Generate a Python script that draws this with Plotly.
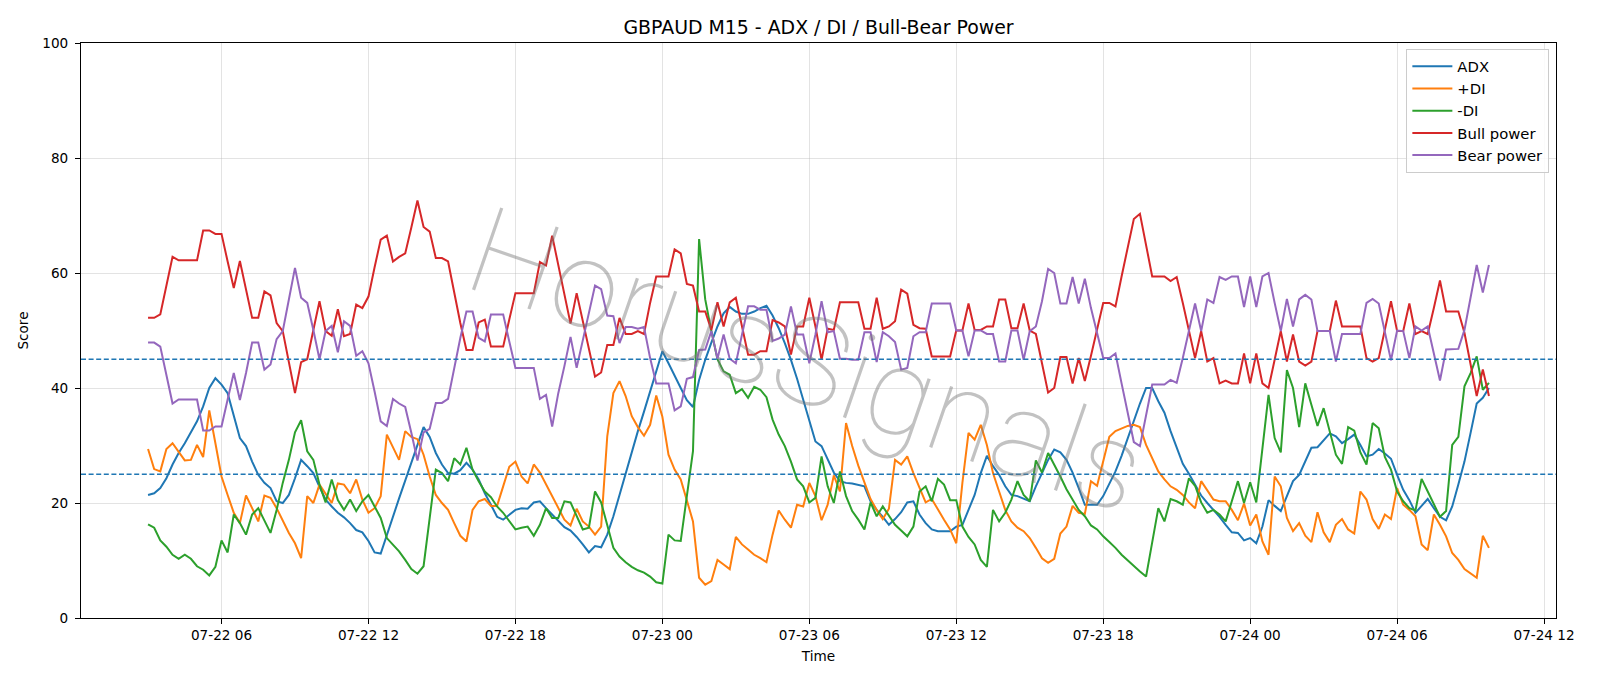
import pandas as pd
import plotly.graph_objects as go

# ---------------- data ----------------
start_time = "2025-07-22 03:00"
n_bars = 220
times = pd.date_range(start_time, periods=n_bars, freq="15min")

adx = [21.4, 21.7, 22.6, 24.3, 26.7, 28.7, 30.4, 32.2, 34.2, 36.8, 40.0, 41.7, 40.6, 39.1, 35.1, 31.3, 29.9, 27.2, 24.9, 23.5,
       22.6, 20.3, 20.0, 21.4, 24.3, 27.5, 26.4, 25.2, 22.8,
       20.6, 19.4, 18.3, 17.5, 16.5, 15.3, 14.9, 13.4, 11.4, 11.2, 14.5, 17.5, 20.8, 23.9, 27.0, 30.2, 33.2, 31.5, 28.7, 26.7,
       25.2, 25.1, 25.7, 27.0, 25.8, 24.1, 21.7, 19.7, 17.6,
       17.1, 18.0, 18.8, 19.1, 19.0, 20.1, 20.3, 19.1, 18.0, 16.8, 15.8, 15.2, 14.1, 12.8, 11.4, 12.5, 12.3, 14.5, 17.7, 21.4,
       25.2, 29.0, 32.5, 35.9, 39.4, 42.9, 46.4, 44.3, 42.0,
       40.0, 37.9, 36.7, 41.4, 44.9, 47.9, 50.7, 53.0, 54.1, 53.3, 52.9, 52.9, 53.3, 53.9, 54.3, 52.6, 50.4, 47.8, 44.9, 41.6,
       38.0, 34.4, 30.7, 29.9, 27.5, 25.3, 23.8, 23.5,
       23.4, 23.2, 22.9, 20.3, 18.8, 17.6, 16.2, 17.2, 18.4, 20.1, 20.3, 18.0, 16.5, 15.4, 15.1, 15.1, 15.1, 15.9, 16.2, 18.8,
       21.4, 25.2, 28.2, 26.4, 24.9, 22.9, 21.4, 21.2, 20.7,
       20.3, 22.9, 25.3, 27.5, 29.3, 28.8, 27.5, 25.3, 22.6, 19.7, 19.7, 19.7, 21.2, 23.5, 25.5, 28.2, 31.3, 34.4, 37.3, 40.0,
       40.0, 37.7, 35.7, 32.5, 29.6, 26.8, 25.1, 23.2,
       21.3, 20.0, 18.8, 17.6, 16.2, 14.9, 14.8, 13.5, 13.9, 13.0, 15.9, 20.5, 19.5, 18.6, 21.2, 23.8, 24.9, 27.2, 29.6, 29.7,
       31.0, 32.1, 31.6, 30.4, 31.1, 31.9, 30.1, 28.1,
       28.4, 29.4, 28.6, 27.7, 24.9, 22.3, 20.5, 18.3, 19.5, 20.7, 19.1, 17.6, 17.0, 19.4, 23.2, 27.2, 32.2, 37.3, 38.3, 40.0]

plus_di = [29.4, 25.9, 25.5, 29.4, 30.4, 29.0, 27.4, 27.5, 30.1, 28.0, 36.1, 30.4, 24.6, 21.4, 18.3, 16.5, 21.3, 19.1, 16.8, 21.3,
           20.9, 19.1, 16.8, 14.8, 13.0, 10.4, 21.2, 20.0, 23.2,
           21.7, 20.0, 23.4, 23.2, 21.7, 24.1, 20.6, 18.3, 19.1, 21.2, 31.9, 29.6, 27.5, 32.5, 31.5, 31.1, 28.4, 24.6, 21.4, 20.0,
           18.8, 16.5, 14.3, 13.3, 18.8, 20.3, 20.7, 19.5, 19.5,
           22.9, 26.3, 27.2, 24.6, 23.4, 26.7, 25.3, 23.2, 21.2, 19.1, 17.1, 16.1, 19.0, 16.8, 15.9, 14.5, 15.9, 31.6, 39.1, 41.2,
           38.6, 35.1, 33.2, 31.7, 33.6, 38.7, 35.0, 28.4, 25.8,
           24.1, 20.3, 16.8, 7.0, 5.8, 6.4, 10.1, 9.3, 8.5, 14.1, 12.8, 11.9, 11.0, 10.4, 9.7, 14.5, 18.7, 17.1, 15.7, 19.7,
           19.4, 23.5, 21.2, 17.0, 19.7, 24.8, 22.0, 33.9,
           29.9, 26.5, 23.5, 20.7, 18.8, 17.2, 19.0, 27.5, 26.7, 28.1, 25.2, 22.6, 20.1, 20.7, 18.8, 17.1, 15.4, 13.0, 23.5, 32.2,
           31.0, 33.6, 30.1, 25.2, 22.0, 18.8, 16.8, 15.7, 15.1,
           13.9, 12.2, 10.4, 9.6, 10.3, 14.7, 15.9, 19.5, 18.3, 18.1, 23.8, 23.0, 27.2, 31.5, 32.5, 32.9, 33.4, 33.6, 33.2, 30.1,
           27.8, 25.5, 24.1, 22.9, 22.3, 21.4, 20.1, 19.1,
           23.8, 22.3, 20.6, 20.3, 20.3, 18.8, 17.0, 19.9, 16.1, 18.0, 13.3, 11.0, 24.6, 22.9, 17.4, 15.1, 16.5, 14.3, 13.2, 18.4,
           14.9, 13.2, 16.2, 17.2, 15.4, 14.7, 22.0, 20.6,
           17.2, 15.5, 18.0, 17.2, 22.6, 19.7, 18.8, 17.7, 12.8, 11.8, 18.0, 16.2, 14.2, 11.3, 10.1, 8.5, 7.7, 7.0, 14.3, 12.2]

minus_di = [16.3, 15.7, 13.5, 12.4, 11.0, 10.3, 11.0, 10.3, 9.0, 8.4, 7.4, 8.9, 13.5, 11.4, 18.0, 16.5, 14.5, 18.0, 19.1, 16.8,
            14.8, 18.8, 23.5, 27.5, 32.3, 34.4, 29.0, 27.5, 23.2,
            20.1, 24.1, 20.5, 18.8, 20.6, 18.6, 20.3, 21.4, 19.4, 17.4, 13.9, 12.8, 11.6, 10.1, 8.5, 7.7, 9.0, 17.4, 25.8, 25.2,
            23.8, 27.8, 26.7, 29.6, 25.8, 23.8, 22.0, 21.0, 19.4,
            18.3, 16.8, 15.4, 15.7, 15.9, 14.3, 16.2, 19.1, 17.4, 17.4, 20.3, 20.1, 17.7, 15.4, 15.7, 22.0, 20.1, 15.9, 12.2, 10.7,
            9.7, 8.9, 8.3, 7.9, 7.2, 6.2, 6.0, 14.5, 13.5,
            13.4, 21.0, 29.0, 65.9, 55.4, 49.9, 45.0, 42.9, 42.3, 39.1, 39.8, 38.3, 40.2, 39.7, 38.4, 34.5, 31.9, 29.9, 27.2, 24.1,
            22.9, 20.1, 20.9, 28.1, 22.9, 20.0, 25.5, 21.2,
            18.6, 17.1, 15.4, 20.1, 17.7, 19.4, 17.7, 16.2, 15.2, 14.2, 15.9, 22.0, 22.9, 20.3, 24.2, 23.2, 20.5, 20.5, 15.9, 14.1,
            12.8, 10.1, 8.9, 18.8, 16.8, 18.3, 20.6, 23.8, 21.4,
            20.3, 27.4, 25.3, 28.7, 26.7, 24.6, 22.4, 20.5, 18.8, 17.7, 16.1, 15.4, 14.2, 13.2, 12.2, 11.0, 10.0, 9.0, 8.1, 7.2,
            13.0, 19.1, 16.8, 20.7, 20.3, 19.7, 24.3, 23.0,
            20.1, 18.3, 18.8, 18.0, 16.8, 20.3, 23.8, 20.0, 23.6, 20.1, 29.0, 38.8, 31.3, 28.8, 43.1, 40.0, 33.2, 40.8, 37.1, 33.4,
            36.5, 32.6, 28.4, 26.8, 33.2, 32.6, 28.8, 26.7,
            33.9, 33.0, 28.0, 25.8, 22.0, 20.3, 19.1, 18.7, 24.2, 22.0, 19.7, 17.6, 18.6, 30.1, 31.5, 40.3, 42.6, 45.5, 39.7, 40.9]

bull_power = [52.2, 52.2, 52.8, 57.7, 62.8, 62.2, 62.2, 62.2, 62.2, 67.4, 67.4, 66.8, 66.8, 62.0, 57.4, 62.1, 57.1, 52.2, 52.2, 56.8,
              56.1, 51.3, 49.9, 44.6, 39.1, 44.5, 45.0, 50.1, 55.1,
              49.9, 49.1, 53.7, 49.0, 49.4, 54.5, 53.9, 55.9, 61.0, 65.8, 66.5, 62.0, 62.8, 63.4, 67.9, 72.6, 68.0, 67.2, 62.6, 62.6,
              62.0, 56.5, 51.3, 46.6, 46.6, 51.4, 51.9, 47.2, 47.2,
              47.2, 51.9, 56.5, 56.5, 56.5, 56.5, 61.9, 61.3, 66.5, 61.4, 56.2, 51.2, 56.5, 51.6, 46.7, 42.0, 42.7, 47.5, 47.5, 52.2,
              49.4, 49.4, 49.9, 49.4, 54.8, 59.4, 59.4, 59.4, 64.1,
              63.4, 58.1, 57.8, 53.3, 53.3, 50.1, 54.9, 50.7, 54.9, 55.7, 50.7, 45.8, 45.8, 46.4, 46.4, 51.8, 51.4, 50.7, 45.8, 50.7,
              50.7, 55.7, 50.7, 44.9, 50.3, 50.1, 54.9, 54.9,
              54.9, 54.9, 50.3, 50.3, 55.7, 50.3, 50.7, 51.6, 57.1, 56.4, 51.0, 50.4, 50.3, 45.5, 45.5, 45.5, 45.5, 50.0, 50.0, 54.7,
              50.1, 50.1, 50.7, 50.7, 55.4, 55.4, 50.4, 50.4, 54.7,
              50.0, 49.4, 44.3, 39.2, 40.0, 45.4, 45.4, 40.8, 45.2, 41.2, 45.6, 50.1, 54.8, 54.8, 54.2, 59.4, 64.6, 69.4, 70.3, 64.9,
              59.4, 59.4, 59.4, 58.6, 59.3, 54.8, 50.1, 45.2,
              49.9, 44.6, 45.2, 40.8, 41.3, 40.8, 40.8, 46.0, 40.8, 46.0, 40.8, 40.0, 44.9, 49.9, 44.6, 49.3, 44.6, 43.9, 44.6, 49.9,
              49.9, 49.9, 55.2, 50.7, 50.7, 50.7, 50.7, 45.2,
              44.6, 45.2, 49.9, 55.1, 49.9, 49.9, 54.7, 49.4, 49.9, 49.4, 53.9, 58.7, 53.3, 53.3, 53.3, 49.6, 44.1, 38.6, 43.2, 38.6]

bear_power = [47.9, 47.9, 47.2, 42.0, 37.3, 38.0, 38.0, 38.0, 38.0, 32.6, 32.6, 33.3, 33.3, 38.0, 42.6, 37.9, 42.6, 47.9, 47.9, 43.2,
              44.1, 48.5, 49.9, 55.4, 60.9, 55.7, 54.8, 50.1, 45.0,
              49.9, 50.8, 46.2, 51.6, 50.8, 45.6, 46.4, 44.3, 39.4, 34.2, 33.4, 38.1, 37.3, 36.7, 32.2, 27.4, 32.3, 32.9, 37.4, 37.4,
              38.1, 43.5, 48.7, 53.3, 53.3, 48.7, 48.1, 52.8, 52.8,
              52.8, 48.1, 43.5, 43.5, 43.5, 43.5, 38.1, 38.8, 33.3, 39.1, 43.8, 48.9, 43.5, 48.1, 53.0, 57.8, 57.2, 52.6, 52.5, 47.8,
              50.6, 50.6, 50.3, 50.6, 45.2, 40.8, 40.8, 40.8, 36.1,
              36.8, 41.6, 41.9, 46.6, 46.7, 49.9, 45.1, 49.3, 45.1, 44.3, 49.3, 54.2, 54.2, 53.6, 53.6, 48.2, 48.6, 49.3, 54.2, 49.3,
              49.3, 44.3, 49.3, 55.1, 49.7, 49.9, 45.1, 45.1,
              44.9, 44.9, 49.7, 49.7, 44.5, 49.7, 49.0, 48.0, 43.2, 43.5, 49.0, 49.7, 49.7, 54.7, 54.7, 54.7, 54.7, 50.0, 50.0, 45.5,
              50.0, 50.0, 49.4, 49.4, 44.6, 44.6, 50.0, 50.0, 44.9,
              49.9, 50.7, 55.1, 60.7, 60.0, 54.7, 54.7, 59.3, 54.7, 59.0, 53.9, 49.4, 45.2, 45.2, 46.0, 40.8, 35.7, 30.6, 29.9, 35.4,
              40.6, 40.6, 40.6, 41.4, 40.9, 45.2, 49.9, 54.7,
              49.9, 55.4, 54.8, 59.3, 58.8, 59.4, 59.4, 54.1, 59.4, 54.1, 59.4, 60.0, 54.8, 49.9, 55.5, 50.7, 55.4, 56.2, 55.4, 49.9,
              49.9, 49.9, 44.6, 49.4, 49.4, 49.4, 49.4, 54.8,
              55.5, 54.7, 49.9, 44.8, 50.0, 49.9, 45.2, 50.7, 50.0, 50.7, 46.0, 41.3, 46.7, 46.7, 46.8, 50.1, 55.9, 61.4, 56.6, 61.4]

series_names = ["ADX", "+DI", "-DI", "Bull power", "Bear power"]
series_colors = ["#1f77b4", "#ff7f0e", "#2ca02c", "#d62728", "#9467bd"]
threshold_levels = [25, 45]

x_tick_values = ["2025-07-22 06:00", "2025-07-22 12:00", "2025-07-22 18:00", "2025-07-23 00:00",
                 "2025-07-23 06:00", "2025-07-23 12:00", "2025-07-23 18:00", "2025-07-24 00:00",
                 "2025-07-24 06:00", "2025-07-24 12:00"]
x_tick_labels = ["07-22 06", "07-22 12", "07-22 18", "07-23 00", "07-23 06",
                 "07-23 12", "07-23 18", "07-24 00", "07-24 06", "07-24 12"]
y_tick_values = [0, 20, 40, 60, 80, 100]

# ---------------- figure ----------------
FONT = "DejaVu Sans, Liberation Sans, sans-serif"
fig = go.Figure()

for name, color, vals in zip(series_names, series_colors,
                             [adx, plus_di, minus_di, bull_power, bear_power]):
    fig.add_trace(go.Scatter(
        x=times, y=vals, mode="lines", name=name,
        line=dict(color=color, width=2),
    ))

for lv in threshold_levels:
    fig.add_hline(y=lv, line=dict(color="#1f77b4", width=1.3, dash="5px,2.6px"), layer="above")

# watermark
fig.add_annotation(
    text="HorusSignals", xref="paper", yref="paper", x=0.4915, y=0.447,
    showarrow=False, textangle=19,
    font=dict(family="Roboto", size=122, color="rgba(120,120,120,0.45)", weight=100),
)

fig.update_layout(
    width=1600, height=686,
    margin=dict(l=81, r=44, t=43, b=68),
    paper_bgcolor="white", plot_bgcolor="white",
    font=dict(family=FONT, size=13.6, color="black"),
    title=dict(text="GBPAUD M15 - ADX / DI / Bull-Bear Power", x=0.5, xref="paper", xanchor="center",
               y=1 - 27.5 / 686, yref="container", yanchor="middle",
               font=dict(family=FONT, size=18.9, color="black")),
    showlegend=True,
    legend=dict(x=0.9955, xanchor="right", y=0.9895, yanchor="top",
                bgcolor="rgba(255,255,255,0.85)", bordercolor="#cccccc", borderwidth=1,
                font=dict(family=FONT, size=14.8, color="black"),
                tracegroupgap=0, itemwidth=40),
    xaxis=dict(
        range=["2025-07-22 00:15:45", "2025-07-24 12:29:15"],
        tickvals=x_tick_values, ticktext=x_tick_labels,
        showgrid=True, gridcolor="rgba(176,176,176,0.35)", gridwidth=1,
        showline=True, linecolor="black", linewidth=1, mirror=True,
        ticks="outside", ticklen=5, tickwidth=1, tickcolor="black",
        zeroline=False,
        title=dict(text="Time", standoff=9, font=dict(family=FONT, size=13.6)),
        automargin=False,
    ),
    yaxis=dict(
        range=[0, 100], tickvals=y_tick_values,
        showgrid=True, gridcolor="rgba(176,176,176,0.35)", gridwidth=1,
        showline=True, linecolor="black", linewidth=1, mirror=True,
        ticks="outside", ticklen=5, tickwidth=1, tickcolor="black",
        ticklabelstandoff=4,
        zeroline=False,
        title=dict(text="Score", standoff=10, font=dict(family=FONT, size=13.6)),
        automargin=False,
    ),
)

fig.write_html("out.html")
